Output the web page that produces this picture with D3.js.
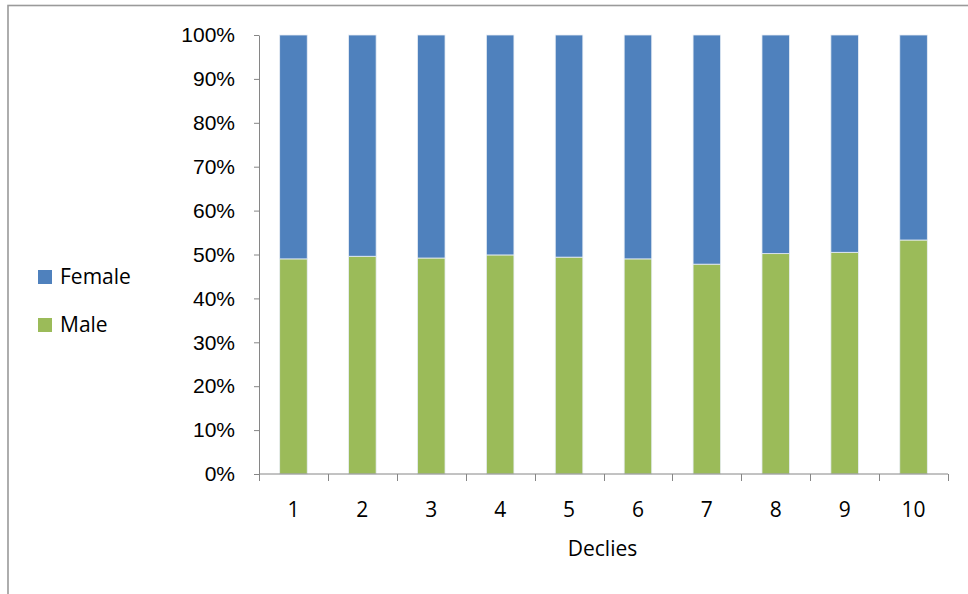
<!DOCTYPE html>
<html>
<head>
<meta charset="utf-8">
<script src="https://cdn.jsdelivr.net/npm/d3@7"></script>
<style>
  body { margin: 0; background: #fff; }
  svg { display: block; font-family: "Open Sans", Lato, sans-serif; }
</style>
</head>
<body>
<div id="chart"></div>
<script>
// deciles 1..10, share of male / female (percent)
var deciles = ["1", "2", "3", "4", "5", "6", "7", "8", "9", "10"];
var male = [49.0, 49.6, 49.2, 49.9, 49.4, 49.0, 47.8, 50.2, 50.5, 53.3];
var female = [51.0, 50.4, 50.8, 50.1, 50.6, 51.0, 52.2, 49.8, 49.5, 46.7];
var yTicks = [0, 10, 20, 30, 40, 50, 60, 70, 80, 90, 100];
var seriesNames = ["Male", "Female"];
var colors = { Male: "#9BBB59", Female: "#4F81BD" };

var W = 968, H = 594;
var margin = {top: 35, left: 259};
var plotW = 689, plotH = 439;
var fontSize = 21;

var svg = d3.select("#chart").append("svg")
    .attr("width", W).attr("height", H);

// outer chart frame (cut off by the window at right / bottom)
svg.append("rect")
   .attr("x", 8).attr("y", 5.5)
   .attr("width", W + 20).attr("height", H + 20)
   .attr("fill", "none").attr("stroke", "#9a9a9a").attr("stroke-width", 1.6);

var g = svg.append("g")
    .attr("transform", "translate(" + margin.left + "," + margin.top + ")");

var x = d3.scaleBand().domain(deciles).range([0, plotW]).paddingInner(0.6).paddingOuter(0.3);
var y = d3.scaleLinear().domain([0, 100]).range([plotH, 0]);

// stack the two series
var rows = deciles.map(function(d, i) { return {decile: d, Male: male[i], Female: female[i]}; });
var stacked = d3.stack().keys(seriesNames)(rows);

g.append("g")
  .selectAll("g")
  .data(stacked)
  .enter().append("g")
    .attr("fill", function(d) { return colors[d.key]; })
  .selectAll("rect")
  .data(function(d) { return d; })
  .enter().append("rect")
    .attr("x", function(d) { return x(d.data.decile); })
    .attr("y", function(d) { return y(d[1]); })
    .attr("width", x.bandwidth())
    .attr("height", function(d) { return y(d[0]) - y(d[1]); })
    .attr("stroke", "#e8eef5")
    .attr("stroke-width", 0.8);

// y axis
var yAxis = g.append("g")
  .call(d3.axisLeft(y).tickValues(yTicks).tickSize(5).tickSizeOuter(0)
        .tickFormat(function(d) { return d + "%"; }));
yAxis.select(".domain").attr("stroke", "#868686");
yAxis.selectAll(".tick line").attr("stroke", "#868686");
yAxis.selectAll("text").attr("font-size", fontSize).attr("fill", "#000").attr("x", -24);

// x axis: ticks at band boundaries
var xAxis = g.append("g").attr("transform", "translate(0," + plotH + ")");
xAxis.append("line").attr("x1", 0).attr("x2", plotW).attr("stroke", "#868686");
var step = x.step();
xAxis.selectAll("line.tk")
  .data(d3.range(deciles.length + 1))
  .enter().append("line").attr("class", "tk")
    .attr("x1", function(i) { return Math.round(i * step) + 0.5; })
    .attr("x2", function(i) { return Math.round(i * step) + 0.5; })
    .attr("y1", 0).attr("y2", 7)
    .attr("stroke", "#868686");
xAxis.selectAll("text")
  .data(deciles)
  .enter().append("text")
    .attr("x", function(d) { return x(d) + x.bandwidth() / 2; })
    .attr("y", 43)
    .attr("text-anchor", "middle")
    .attr("font-size", fontSize)
    .text(function(d) { return d; });

g.append("text")
  .attr("x", plotW / 2 - 1).attr("y", plotH + 82)
  .attr("text-anchor", "middle").attr("font-size", fontSize)
  .text("Declies");

// legend
var legend = svg.append("g").attr("transform", "translate(38,0)");
var legendItems = ["Female", "Male"];
var legendY = [277, 325];
legendItems.forEach(function(k, i) {
  legend.append("rect").attr("x", 0).attr("y", legendY[i] - 7)
        .attr("width", 14).attr("height", 14).attr("fill", colors[k]);
  legend.append("text").attr("x", 22).attr("y", legendY[i] + 7)
        .attr("font-size", fontSize).text(k);
});
</script>
</body>
</html>
